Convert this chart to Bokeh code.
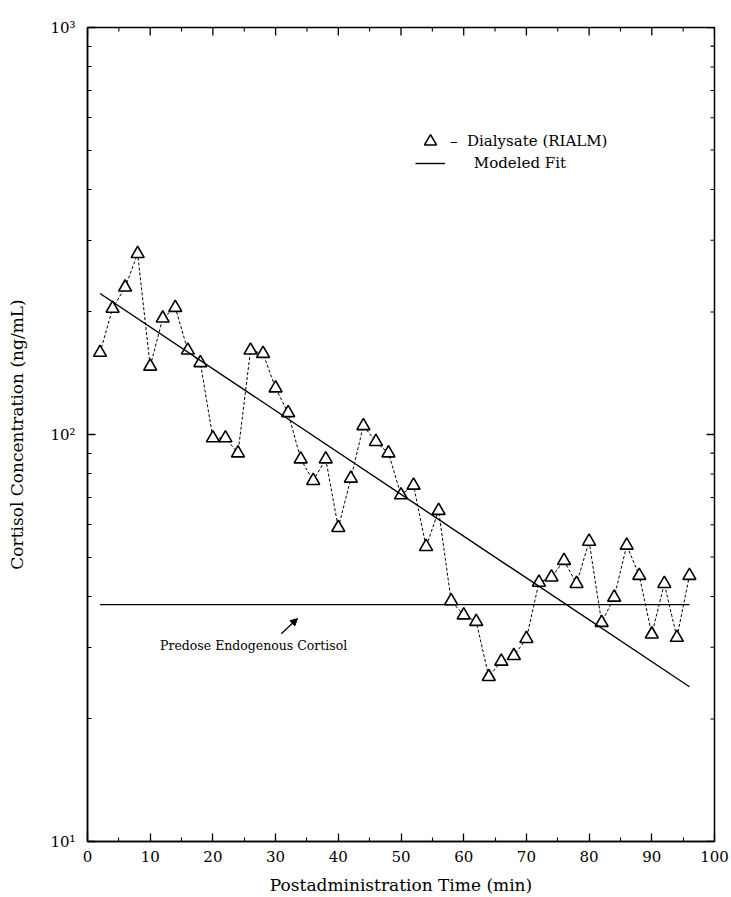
import math
from bokeh.plotting import figure
from bokeh.models import (Range1d, FixedTicker, Legend, LegendItem,
                          Label, Arrow, NormalHead, ColumnDataSource)
from bokeh.embed import file_html
from bokeh.resources import INLINE

# ---- data ----
time_min = [2, 4, 6, 8, 10, 12, 14, 16, 18, 20, 22, 24, 26, 28, 30, 32, 34, 36, 38, 40,
            42, 44, 46, 48, 50, 52, 54, 56, 58, 60, 62, 64, 66, 68, 70, 72, 74, 76, 78, 80,
            82, 84, 86, 88, 90, 92, 94, 96]
dialysate = [159, 204, 230, 278, 147, 193, 205, 161, 150, 98, 98, 90, 161, 158, 130, 113,
             87, 77, 87, 59, 78, 105, 96, 90, 71, 75, 53, 65, 39, 36, 34.7, 25.4, 27.7,
             28.6, 31.5, 43.3, 44.6, 49, 43, 54.6, 34.5, 39.8, 53.4, 45, 32.3, 43, 31.7, 45]
fit_time = [2, 96]
fit_conc = [222, 24]
predose_time = [2, 96]
predose_conc = [38.2, 38.2]

x_major = [0, 10, 20, 30, 40, 50, 60, 70, 80, 90, 100]
x_minor = [5, 15, 25, 35, 45, 55, 65, 75, 85, 95]
y_major = [10, 100, 1000]
y_minor = [20, 30, 40, 50, 60, 70, 80, 90, 200, 300, 400, 500, 600, 700, 800, 900]
y_labels = {10: "10\u00b9", 100: "10\u00b2", 1000: "10\u00b3"}

X_MIN, X_MAX = 0, 100
Y_MIN, Y_MAX = 10, 1000

FONT = "DejaVu Serif"

p = figure(width=731, height=897, frame_width=627, frame_height=814,
           x_range=Range1d(X_MIN, X_MAX), y_range=Range1d(Y_MIN, Y_MAX), y_axis_type="log",
           output_backend="svg", toolbar_location=None,
           min_border_left=87, min_border_right=17, min_border_top=27, min_border_bottom=56,
           background_fill_color="white", border_fill_color="white")
p.xgrid.visible = False
p.ygrid.visible = False
p.outline_line_color = "black"
p.outline_line_width = 1.5

xt = FixedTicker(ticks=x_major, minor_ticks=x_minor)
yt = FixedTicker(ticks=y_major, minor_ticks=y_minor)

def style(ax):
    ax.axis_line_color = "black"
    ax.axis_line_width = 1.5
    ax.major_tick_in = 8
    ax.major_tick_out = 0
    ax.minor_tick_in = 4
    ax.minor_tick_out = 0
    ax.major_tick_line_color = "black"
    ax.minor_tick_line_color = "black"
    ax.major_tick_line_width = 1.3
    ax.minor_tick_line_width = 1.1
    ax.major_label_text_font = FONT
    ax.major_label_text_font_size = "15px"
    ax.major_label_text_color = "black"
    ax.axis_label_text_font = FONT
    ax.axis_label_text_font_size = "17px"
    ax.axis_label_text_font_style = "normal"
    ax.axis_label_text_color = "black"

xa = p.xaxis[0]
xa.ticker = xt
style(xa)
xa.axis_label = "Postadministration Time (min)"
xa.major_label_standoff = 9
xa.axis_label_standoff = 10

ya = p.yaxis[0]
ya.ticker = yt
style(ya)
ya.axis_label = "Cortisol Concentration (ng/mL)"
ya.major_label_overrides = y_labels
ya.major_label_standoff = 12
ya.axis_label_standoff = 20

# mirrored inward ticks on top and right edges
p.ray(x=x_major, y=[Y_MAX] * len(x_major), length=8, angle=-math.pi / 2,
      length_units="screen", line_color="black", line_width=1.3)
p.ray(x=x_minor, y=[Y_MAX] * len(x_minor), length=4, angle=-math.pi / 2,
      length_units="screen", line_color="black", line_width=1.1)
p.ray(x=[X_MAX] * len(y_major), y=y_major, length=8, angle=math.pi,
      length_units="screen", line_color="black", line_width=1.3)
p.ray(x=[X_MAX] * len(y_minor), y=y_minor, length=4, angle=math.pi,
      length_units="screen", line_color="black", line_width=1.1)

src = ColumnDataSource(dict(t=time_min, c=dialysate))
p.line("t", "c", source=src, line_color="black", line_dash="3 2", line_width=1)
tri = p.scatter("t", "c", source=src, marker="triangle", size=13, fill_color="white",
                line_color="black", line_width=1.6)
fit = p.line(fit_time, fit_conc, line_color="black", line_width=1.4)
p.line(predose_time, predose_conc, line_color="black", line_width=1.4)

common = dict(orientation="vertical", label_text_font=FONT, label_text_font_size="15px",
              label_text_color="black", glyph_width=30, label_standoff=5, padding=0,
              margin=0, spacing=0, border_line_color=None, background_fill_alpha=0)
legend1 = Legend(items=[LegendItem(label="\u2013\u00a0\u00a0Dialysate (RIALM)", renderers=[tri])],
                 location=(328, 685), glyph_height=30, label_height=30, **common)
legend2 = Legend(items=[LegendItem(label="\u00a0\u00a0\u00a0\u00a0\u00a0Modeled Fit", renderers=[fit])],
                 location=(328, 669), glyph_height=18, label_height=18, **common)
p.add_layout(legend1, "center")
p.add_layout(legend2, "center")

p.add_layout(Label(x=26.5, y=30.3, text="Predose Endogenous Cortisol", text_font=FONT,
                   text_font_size="12.5px", text_align="center", text_baseline="middle",
                   text_color="black"))
p.add_layout(Arrow(x_start=30.9, y_start=32.4, x_end=33.5, y_end=35.3,
                   line_color="black", line_width=1.2,
                   end=NormalHead(size=7, fill_color="black", line_color="black")))

open("out.html", "w").write(file_html(p, INLINE))
